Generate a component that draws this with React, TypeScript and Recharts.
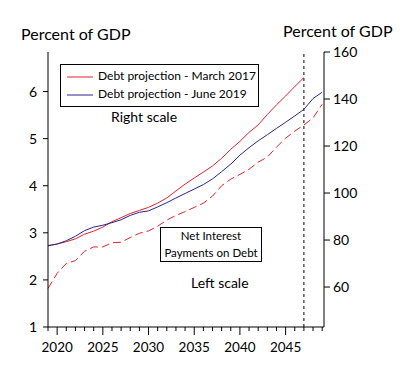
import React from 'react'
import {
  ComposedChart,
  Line,
  XAxis,
  YAxis,
  ReferenceLine,
} from 'recharts'

const years = [
  2019, 2020, 2021, 2022, 2023, 2024, 2025, 2026, 2027, 2028, 2029, 2030, 2031, 2032, 2033, 2034,
  2035, 2036, 2037, 2038, 2039, 2040, 2041, 2042, 2043, 2044, 2045, 2046, 2047, 2048, 2049,
]

// right scale, percent of GDP
const debtMarch2017 = [
  77.6, 78.3, 79.3, 80.5, 82.5, 83.8, 85.5, 87.8, 89.5, 91.3, 92.6, 93.9, 95.7, 97.9, 100.9, 103.8,
  106.4, 108.9, 111.5, 114.8, 118.6, 122.0, 125.8, 129.0, 133.4, 137.5, 141.3, 145.3, 149.1, null, null,
]
const debtJune2019 = [
  77.6, 78.3, 79.7, 81.6, 84.0, 85.5, 86.3, 87.4, 88.6, 90.5, 91.8, 92.4, 94.1, 95.9, 97.9, 99.8,
  101.7, 103.6, 106.0, 109.1, 112.3, 116.1, 119.3, 122.2, 124.8, 127.5, 130.1, 132.8, 135.6, 140.2, 142.9,
]
// left scale, percent of GDP
const netInterest = [
  1.82, 2.14, 2.35, 2.41, 2.61, 2.7, 2.7, 2.79, 2.8, 2.9, 2.99, 3.04, 3.14, 3.27, 3.37, 3.45,
  3.54, 3.63, 3.78, 4.0, 4.14, 4.24, 4.35, 4.5, 4.61, 4.82, 5.01, 5.16, 5.29, 5.44, 5.73,
]

const leftTicks = [1, 2, 3, 4, 5, 6]
const rightTicks = [60, 80, 100, 120, 140, 160]
const labelYears = [2020, 2025, 2030, 2035, 2040, 2045]

const data = years.map((year, i) => ({
  year,
  march2017: debtMarch2017[i],
  june2019: debtJune2019[i],
  interest: netInterest[i],
}))

const RED = '#e8202a'
const BLUE = '#26268f'
const FONT = 'Lato, "Liberation Sans", sans-serif'

const YearTick = (props: any) => {
  const { x, y, payload } = props
  const major = labelYears.includes(payload.value)
  return (
    <g>
      <line x1={x} x2={x} y1={y} y2={y + (major ? 8 : 4)} stroke="#000" />
      {major && (
        <text x={x} y={y + 25} textAnchor="middle" fontSize={13.5} fontFamily={FONT} fill="#000">
          {payload.value}
        </text>
      )}
    </g>
  )
}

const textStyle: React.CSSProperties = {
  position: 'absolute',
  fontFamily: FONT,
  color: '#000',
  whiteSpace: 'nowrap',
  lineHeight: 1,
}

const App = () => {
  return (
    <div style={{ position: 'absolute', left: 0, top: 0, width: 412, height: 374, background: '#fff' }}>
      <ComposedChart
        width={412}
        height={374}
        data={data}
        margin={{ top: 52, right: 0, bottom: 0, left: 0 }}
      >
        <XAxis
          dataKey="year"
          type="number"
          domain={[2019, 2049.2]}
          ticks={years}
          interval={0}
          height={47}
          tickSize={0}
          tickMargin={0}
          tick={<YearTick />}
          stroke="#000"
        />
        <YAxis
          yAxisId="left"
          domain={[1, 6.84]}
          ticks={leftTicks}
          width={48}
          tickSize={5}
          tickMargin={6}
          stroke="#000"
          tick={{ fill: '#000', fontSize: 14, fontFamily: FONT }}
        />
        <YAxis
          yAxisId="right"
          orientation="right"
          domain={[43, 160]}
          ticks={rightTicks}
          width={88}
          tickSize={6}
          tickMargin={3}
          stroke="#000"
          tick={{ fill: '#000', fontSize: 14, fontFamily: FONT }}
        />
        <ReferenceLine yAxisId="left" x={2047} stroke="#000" strokeDasharray="3 3" />
        <Line
          yAxisId="right"
          dataKey="march2017"
          stroke={RED}
          strokeWidth={1}
          dot={false}
          type="linear"
          isAnimationActive={false}
        />
        <Line
          yAxisId="right"
          dataKey="june2019"
          stroke={BLUE}
          strokeWidth={1}
          dot={false}
          type="linear"
          isAnimationActive={false}
        />
        <Line
          yAxisId="left"
          dataKey="interest"
          stroke={RED}
          strokeWidth={1}
          strokeDasharray="8 4"
          dot={false}
          type="linear"
          isAnimationActive={false}
        />
      </ComposedChart>

      <div style={{ ...textStyle, left: 21, top: 26, fontSize: 16 }}>Percent of GDP</div>
      <div style={{ ...textStyle, left: 283, top: 23, fontSize: 16 }}>Percent of GDP</div>

      <div
        style={{
          position: 'absolute',
          left: 60,
          top: 64,
          width: 199,
          height: 43,
          border: '1px solid #000',
          background: '#fff',
          boxSizing: 'border-box',
        }}
      >
        <svg width={30} height={40} style={{ position: 'absolute', left: 6, top: 0 }}>
          <line x1={0} x2={26} y1={12} y2={12} stroke={RED} />
          <line x1={0} x2={26} y1={30} y2={30} stroke={BLUE} />
        </svg>
        <div style={{ ...textStyle, left: 37, top: 5, fontSize: 12 }}>Debt projection - March 2017</div>
        <div style={{ ...textStyle, left: 37, top: 23, fontSize: 12 }}>Debt projection - June 2019</div>
      </div>

      <div style={{ ...textStyle, left: 111, top: 110, fontSize: 14 }}>Right scale</div>

      <div
        style={{
          position: 'absolute',
          left: 160,
          top: 227,
          width: 102,
          height: 35,
          border: '1px solid #000',
          background: '#fff',
          boxSizing: 'border-box',
          fontFamily: FONT,
          fontSize: 11.5,
          textAlign: 'center',
          lineHeight: '16.5px',
          whiteSpace: 'nowrap',
        }}
      >
        <div>Net Interest</div>
        <div>Payments on Debt</div>
      </div>

      <div style={{ ...textStyle, left: 191, top: 276, fontSize: 14 }}>Left scale</div>
    </div>
  )
}

export default App
